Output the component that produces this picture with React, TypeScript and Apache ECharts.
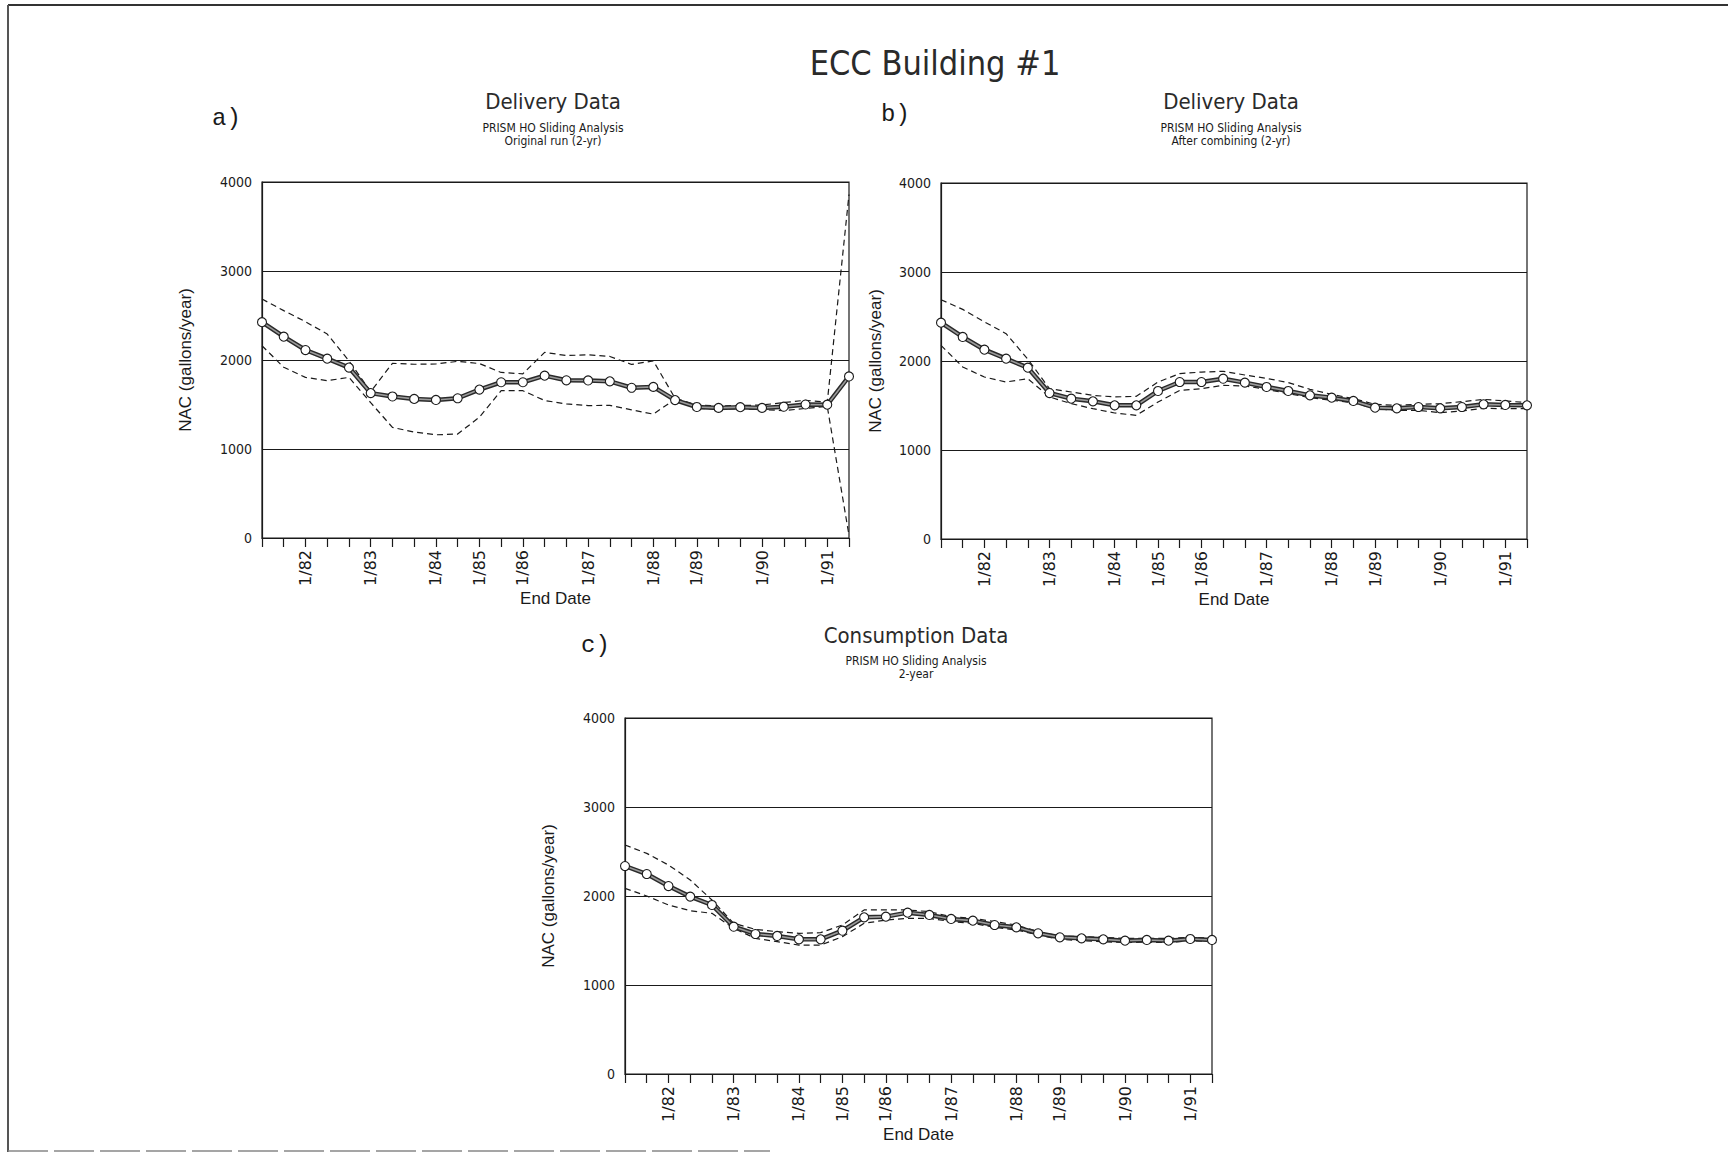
import React, { useEffect, useRef } from "react";
import * as echarts from "echarts";

// 28 sliding-window end dates (one per tick)
const windowIds = [
  "w01", "w02", "w03", "w04", "w05", "w06", "w07", "w08", "w09", "w10",
  "w11", "w12", "w13", "w14", "w15", "w16", "w17", "w18", "w19", "w20",
  "w21", "w22", "w23", "w24", "w25", "w26", "w27", "w28",
];
const tickLabels = [
  "", "", "1/82", "", "", "1/83", "", "", "1/84", "", "1/85", "", "1/86", "", "",
  "1/87", "", "", "1/88", "", "1/89", "", "", "1/90", "", "", "1/91", "",
];
const yTicks = [0, 1000, 2000, 3000, 4000];

// a) Delivery data, original run (2-yr)
const aNac = [2425, 2262, 2112, 2015, 1915, 1628, 1590, 1563, 1551, 1570, 1668, 1750, 1750, 1824, 1772, 1770, 1760, 1688, 1698, 1550, 1472, 1462, 1470, 1462, 1475, 1500, 1498, 1815];
const aUpper = [2685, 2555, 2430, 2292, 1990, 1645, 1963, 1952, 1955, 1985, 1960, 1860, 1845, 2086, 2050, 2058, 2040, 1950, 1990, 1570, 1494, 1485, 1488, 1494, 1522, 1548, 1525, 3860];
const aLower = [2160, 1918, 1805, 1768, 1805, 1520, 1243, 1190, 1160, 1168, 1358, 1655, 1655, 1545, 1506, 1488, 1490, 1440, 1392, 1560, 1456, 1450, 1450, 1441, 1432, 1456, 1478, 30];

// b) Delivery data, after combining (2-yr)
const bNac = [2431, 2270, 2127, 2026, 1925, 1640, 1577, 1547, 1502, 1502, 1663, 1764, 1764, 1801, 1757, 1708, 1663, 1614, 1588, 1551, 1476, 1468, 1483, 1468, 1483, 1513, 1506, 1502];
const bUpper = [2689, 2580, 2440, 2307, 2020, 1689, 1652, 1614, 1596, 1603, 1764, 1858, 1876, 1884, 1843, 1805, 1757, 1682, 1625, 1577, 1513, 1502, 1513, 1520, 1543, 1569, 1551, 1532];
const bLower = [2176, 1933, 1820, 1764, 1801, 1596, 1521, 1464, 1416, 1390, 1539, 1670, 1689, 1727, 1719, 1682, 1633, 1588, 1558, 1532, 1464, 1446, 1446, 1419, 1438, 1468, 1464, 1464];

// c) Consumption data, 2-year
const cNac = [2337, 2247, 2112, 1993, 1899, 1655, 1573, 1551, 1513, 1513, 1610, 1760, 1768, 1813, 1787, 1742, 1723, 1674, 1648, 1581, 1536, 1524, 1513, 1498, 1506, 1498, 1517, 1506];
const cUpper = [2573, 2479, 2348, 2180, 1955, 1693, 1625, 1599, 1580, 1588, 1674, 1843, 1843, 1843, 1824, 1768, 1749, 1712, 1674, 1599, 1551, 1543, 1536, 1524, 1524, 1524, 1536, 1528];
const cLower = [2086, 2000, 1899, 1835, 1805, 1637, 1524, 1487, 1449, 1449, 1543, 1693, 1730, 1749, 1749, 1712, 1693, 1648, 1618, 1562, 1513, 1498, 1487, 1476, 1483, 1476, 1498, 1487];

const TITLE_FONT = "'DejaVu Sans Condensed', 'DejaVu Sans', sans-serif";
const AXIS_FONT = "'Liberation Sans', Arial, sans-serif";
const NARROW_FONT = "'Liberation Sans Narrow', 'DejaVu Sans Condensed', 'Liberation Sans', sans-serif";
const WIDE_FONT = "'DejaVu Sans', 'Liberation Sans', sans-serif";
const MONO_FONT = "'Liberation Mono', 'DejaVu Sans Mono', monospace";
const INK = "#1a1a1a";

const panels = [
  { grid: { left: 262, top: 182, width: 587, height: 356 }, nameGap: 68, nac: aNac, upper: aUpper, lower: aLower },
  { grid: { left: 941, top: 183, width: 586, height: 356 }, nameGap: 57, nac: bNac, upper: bUpper, lower: bLower },
  { grid: { left: 625, top: 718, width: 587, height: 356 }, nameGap: 68, nac: cNac, upper: cUpper, lower: cLower },
];

function text(x: number, y: number, t: string, size: number, family: string, align = "center", weight: any = "normal", fill = INK) {
  return {
    type: "text",
    x,
    y,
    silent: true,
    style: {
      text: t,
      fill,
      fontSize: size,
      fontFamily: family,
      fontWeight: weight,
      textAlign: align,
      textVerticalAlign: "middle",
    },
  };
}

export default function App() {
  const ref = useRef<HTMLDivElement>(null);

  useEffect(() => {
    if (!ref.current) return;
    const chart = echarts.init(ref.current, null, { renderer: "svg" });

    const grids = panels.map((p) => ({
      ...p.grid,
      show: true,
      borderColor: INK,
      borderWidth: 1.2,
      backgroundColor: "transparent",
    }));

    const xAxes = panels.map((_, i) => ({
      type: "category",
      gridIndex: i,
      data: windowIds,
      boundaryGap: false,
      axisLine: { show: true, lineStyle: { color: INK, width: 1.2 } },
      axisTick: { show: true, interval: 0, length: 9, inside: false, lineStyle: { color: INK, width: 1.2 } },
      axisLabel: {
        interval: 0,
        rotate: 90,
        margin: 12,
        fontSize: 16,
        color: INK,
        fontFamily: WIDE_FONT,
        formatter: (_v: string, idx: number) => tickLabels[idx],
      },
      splitLine: { show: false },
      name: "End Date",
      nameLocation: "middle",
      nameGap: 47,
      nameTextStyle: { fontSize: 17, color: INK, fontFamily: AXIS_FONT },
    }));

    const yAxes = panels.map((p, i) => ({
      type: "value",
      gridIndex: i,
      min: yTicks[0],
      max: yTicks[yTicks.length - 1],
      interval: yTicks[1] - yTicks[0],
      axisLine: { show: true, lineStyle: { color: INK, width: 1.2 } },
      axisTick: { show: false },
      axisLabel: {
        fontSize: 14,
        color: INK,
        margin: 10,
        fontFamily: NARROW_FONT,
        formatter: (v: number) => String(v),
      },
      splitLine: { show: true, lineStyle: { color: INK, width: 1.2, type: "solid" } },
      name: "NAC (gallons/year)",
      nameLocation: "middle",
      nameGap: p.nameGap,
      nameTextStyle: { fontSize: 17, color: INK, fontFamily: AXIS_FONT },
    }));

    const series: any[] = [];
    panels.forEach((p, i) => {
      const common = { type: "line", xAxisIndex: i, yAxisIndex: i, silent: true };
      series.push({
        ...common,
        name: `upper-${i}`,
        data: p.upper,
        symbol: "none",
        z: 2,
        lineStyle: { color: INK, width: 1.2, type: [6, 4] },
      });
      series.push({
        ...common,
        name: `lower-${i}`,
        data: p.lower,
        symbol: "none",
        z: 2,
        lineStyle: { color: INK, width: 1.2, type: [6, 4] },
      });
      series.push({
        ...common,
        name: `nac-outer-${i}`,
        data: p.nac,
        symbol: "none",
        z: 3,
        lineStyle: { color: "#2a2a2a", width: 4.5 },
      });
      series.push({
        ...common,
        name: `nac-inner-${i}`,
        data: p.nac,
        symbol: "none",
        z: 4,
        lineStyle: { color: "#9a9a9a", width: 1.6 },
      });
      series.push({
        ...common,
        name: `nac-${i}`,
        data: p.nac,
        symbol: "circle",
        symbolSize: 9,
        showSymbol: true,
        z: 5,
        lineStyle: { width: 0, opacity: 0 },
        itemStyle: { color: "#ffffff", borderColor: INK, borderWidth: 1.1 },
      });
    });

    const graphic: any[] = [
      // page frame (scanned page border)
      { type: "line", silent: true, shape: { x1: 8, y1: 5, x2: 1728, y2: 5 }, style: { stroke: "#333", lineWidth: 2 } },
      { type: "line", silent: true, shape: { x1: 8, y1: 5, x2: 8, y2: 1152 }, style: { stroke: "#555", lineWidth: 2 } },
      { type: "line", silent: true, shape: { x1: 8, y1: 1151, x2: 770, y2: 1151 }, style: { stroke: "#888", lineWidth: 1.5, lineDash: [40, 6] } },
      text(935, 63, "ECC Building #1", 34, TITLE_FONT, "center", 200, "#2a2a2a"),
      // panel a
      text(212, 118, "a)", 24, MONO_FONT, "left"),
      text(553, 101, "Delivery Data", 22, TITLE_FONT, "center", 200, "#2a2a2a"),
      text(553, 128, "PRISM HO Sliding Analysis", 12, TITLE_FONT),
      text(553, 141, "Original run (2-yr)", 12, TITLE_FONT),
      // panel b
      text(881, 114, "b)", 24, MONO_FONT, "left"),
      text(1231, 101, "Delivery Data", 22, TITLE_FONT, "center", 200, "#2a2a2a"),
      text(1231, 128, "PRISM HO Sliding Analysis", 12, TITLE_FONT),
      text(1231, 141, "After combining (2-yr)", 12, TITLE_FONT),
      // panel c
      text(581, 645, "c)", 24, MONO_FONT, "left"),
      text(916, 635, "Consumption Data", 22, TITLE_FONT, "center", 200, "#2a2a2a"),
      text(916, 661, "PRISM HO Sliding Analysis", 12, TITLE_FONT),
      text(916, 674, "2-year", 12, TITLE_FONT),
    ];

    chart.setOption({
      animation: false,
      backgroundColor: "#ffffff",
      grid: grids,
      xAxis: xAxes,
      yAxis: yAxes,
      series,
      graphic,
    });

    return () => chart.dispose();
  }, []);

  return (
    <div
      ref={ref}
      style={{ position: "absolute", left: 0, top: 0, width: 1728, height: 1155 }}
    />
  );
}
